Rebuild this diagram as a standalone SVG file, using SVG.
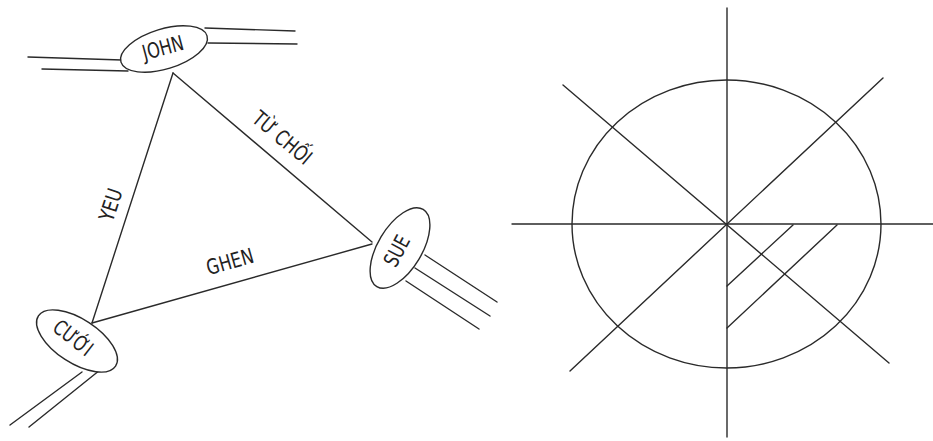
<svg xmlns="http://www.w3.org/2000/svg" width="933" height="441" viewBox="0 0 933 441">
<style>
.s{stroke:#2a2a2a;stroke-width:1.4;fill:none;stroke-linecap:round}
.n{stroke:#2a2a2a;stroke-width:1.4;fill:#fff}
.t{font-family:'Liberation Sans Narrow','DejaVu Sans Condensed','Liberation Sans',sans-serif;font-size:21px;fill:#222;text-anchor:middle;dominant-baseline:central}
</style>
<rect width="933" height="441" fill="#fff"/>
<g id="connectors">
<line class="s" x1="28" y1="57" x2="122" y2="60"/>
<line class="s" x1="42" y1="69" x2="128" y2="71"/>
<line class="s" x1="205" y1="28" x2="295" y2="31"/>
<line class="s" x1="208" y1="43" x2="297" y2="44"/>
<line class="s" x1="173" y1="73" x2="92" y2="323"/>
<line class="s" x1="173" y1="73" x2="372" y2="242"/>
<line class="s" x1="92" y1="323" x2="372" y2="244"/>
<line class="s" x1="82" y1="372" x2="10" y2="425"/>
<line class="s" x1="100" y1="370" x2="29" y2="427"/>
<line class="s" x1="425" y1="255" x2="497" y2="302"/>
<line class="s" x1="415" y1="268" x2="490" y2="316"/>
<line class="s" x1="406" y1="281" x2="479" y2="329"/>
<text class="t" transform="translate(111 205) rotate(-72)" textLength="33" lengthAdjust="spacingAndGlyphs">YEU</text>
<text class="t" transform="translate(282 138) rotate(40)" textLength="70" lengthAdjust="spacingAndGlyphs">TỪ CHỐI</text>
<text class="t" transform="translate(230 262) rotate(-16)" textLength="48" lengthAdjust="spacingAndGlyphs">GHEN</text>
</g>
<g id="john">
<ellipse class="n" cx="164" cy="49" rx="45" ry="20" transform="rotate(-17 164 49)"/>
<text class="t" transform="translate(163 48) rotate(-15)" textLength="42" lengthAdjust="spacingAndGlyphs">JOHN</text>
</g>
<g id="cuoi">
<ellipse class="n" cx="77" cy="341" rx="46" ry="22" transform="rotate(33 77 341)"/>
<text class="t" transform="translate(73 338) rotate(38)" textLength="44" lengthAdjust="spacingAndGlyphs">CƯỚI</text>
</g>
<g id="sue">
<ellipse class="n" cx="400" cy="248" rx="45" ry="22" transform="rotate(-59 400 248)"/>
<text class="t" transform="translate(397 251) rotate(-62)" textLength="32" lengthAdjust="spacingAndGlyphs">SUE</text>
</g>
<g id="figure">
<ellipse class="s" cx="726.5" cy="224" rx="154.5" ry="144"/>
<line class="s" x1="727" y1="8" x2="727" y2="437"/>
<line class="s" x1="512" y1="224" x2="933" y2="224"/>
<line class="s" x1="563" y1="85" x2="889" y2="363"/>
<line class="s" x1="883" y1="78" x2="570" y2="371"/>
<line class="s" x1="793" y1="225" x2="727" y2="286"/>
<line class="s" x1="837" y1="225" x2="727" y2="328"/>
</g>
</svg>
